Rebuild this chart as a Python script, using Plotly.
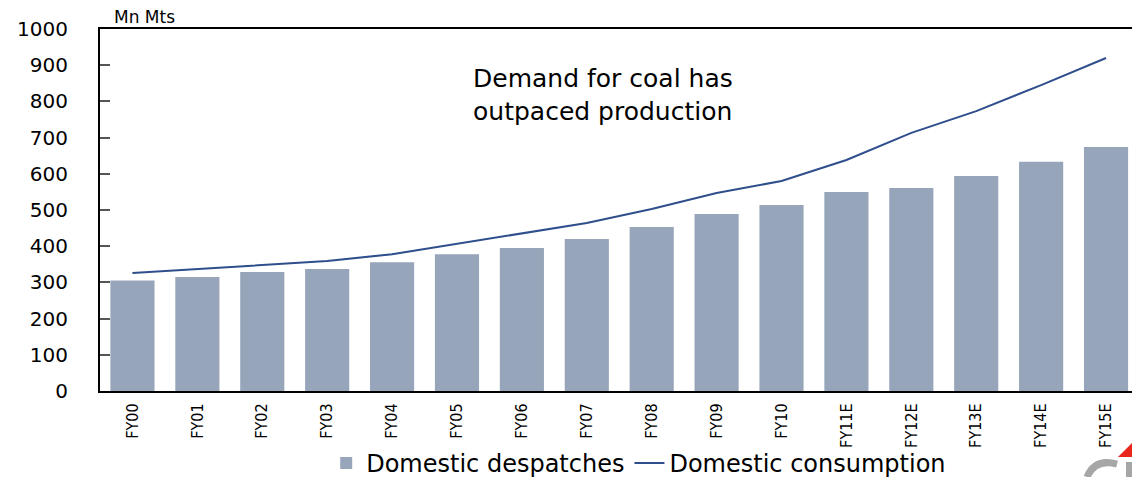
import plotly.graph_objects as go

# Fiscal years (E = estimate)
years = ["FY00", "FY01", "FY02", "FY03", "FY04", "FY05", "FY06", "FY07",
         "FY08", "FY09", "FY10", "FY11E", "FY12E", "FY13E", "FY14E", "FY15E"]

# Coal volumes, million tonnes
despatches = [305, 315, 329, 337, 356, 378, 395, 420,
              453, 489, 514, 550, 561, 594, 633, 674]
consumption = [326, 337, 348, 359, 378, 406, 434, 464,
               503, 547, 580, 638, 713, 773, 845, 920]

y_ticks = list(range(0, 1001, 100))

fig = go.Figure()
fig.add_trace(go.Bar(
    x=years, y=despatches, name="Domestic despatches",
    marker=dict(color="#97A5BA", line=dict(width=0)), width=0.68,
))
fig.add_trace(go.Scatter(
    x=years, y=consumption, name="Domestic consumption", mode="lines",
    line=dict(color="#2F4E8C", width=2),
))

fig.update_layout(
    width=1132, height=477,
    margin=dict(l=100, r=0, t=29, b=86, autoexpand=False),
    plot_bgcolor="white", paper_bgcolor="white",
    font=dict(family="DejaVu Sans", color="black"),
    showlegend=True,
    legend=dict(
        orientation="h", x=0.522, xanchor="center", y=-0.2, yanchor="middle",
        font=dict(family="DejaVu Sans", size=24), itemwidth=30,
        bgcolor="rgba(0,0,0,0)", tracegroupgap=0,
    ),
)

fig.update_xaxes(
    range=[-0.5, 15.4], showline=True, linecolor="black", linewidth=2,
    mirror=True, ticks="", tickangle=-90, showgrid=False,
    tickfont=dict(family="DejaVu Sans Condensed", size=16),
    ticklabelstandoff=4,
)
fig.update_yaxes(
    range=[0, 1000], tickvals=y_ticks, showline=True, linecolor="black",
    linewidth=2, ticks="inside", ticklen=10, tickcolor="#555555",
    tickwidth=2, showgrid=False, zeroline=False,
    tickfont=dict(family="DejaVu Sans", size=20), ticklabelstandoff=26,
)

fig.add_annotation(
    text="Mn Mts", xref="paper", yref="paper", x=0.0116, y=1.033,
    xanchor="left", yanchor="middle", showarrow=False,
    font=dict(family="DejaVu Sans", size=17),
)
fig.add_annotation(
    text="Demand for coal has<br>outpaced production",
    xref="paper", yref="paper", x=0.3595, y=0.818,
    xanchor="left", yanchor="middle", align="left", showarrow=False,
    font=dict(family="DejaVu Sans", size=25),
)

# Corner logo fragment
fig.add_shape(
    type="path", xref="paper", yref="paper",
    path="M 0.9564 -0.2376 Q 0.9641 -0.1851 0.9855 -0.2017",
    line=dict(color="#A6A6A6", width=7), fillcolor="rgba(0,0,0,0)",
)
fig.add_shape(
    type="rect", xref="paper", yref="paper",
    x0=0.9942, x1=1.0, y0=-0.2376, y1=-0.1961,
    line=dict(width=0), fillcolor="#A6A6A6",
)
fig.add_shape(
    type="path", xref="paper", yref="paper",
    path="M 0.9864 -0.1823 L 1.0 -0.1436 L 1.0 -0.1823 Z",
    line=dict(width=0), fillcolor="#E8261C",
)

fig.write_html("out.html")
